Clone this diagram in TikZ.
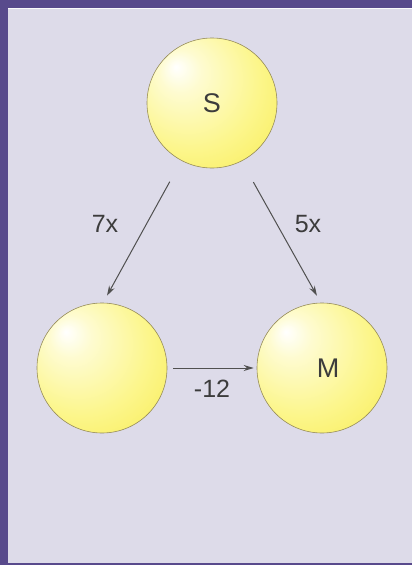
\documentclass[tikz,border=0pt]{standalone}
\usepackage{fontspec}
\setmainfont{Liberation Sans}
\usetikzlibrary{arrows.meta}
\definecolor{frame}{RGB}{88,74,140}
\definecolor{panel}{RGB}{221,219,233}
\definecolor{ink}{RGB}{60,60,60}
\definecolor{edge}{RGB}{150,140,90}
\definecolor{ylmid}{RGB}{252,246,140}
\definecolor{ylout}{RGB}{246,232,62}
\pgfdeclareradialshading{sphere}{\pgfpoint{-14bp}{14bp}}{%
  color(0bp)=(white);
  color(8bp)=(white!60!ylmid);
  color(26bp)=(ylmid);
  color(50bp)=(ylout);
  color(62bp)=(ylout!92!orange)}
\tikzset{
  ball/.style={circle, minimum size=130pt, inner sep=0pt, shading=sphere,
    draw=edge, line width=0.6pt, text=ink, font=\fontsize{27}{30}\selectfont},
  lbl/.style={text=ink, font=\fontsize{25}{28}\selectfont, inner sep=0pt},
  arr/.style={draw=ink!90, line width=1pt, -{Stealth[length=10pt,width=6pt]}}
}
\begin{document}
\begin{tikzpicture}[x=1pt,y=-1pt]
\useasboundingbox (0,0) rectangle (412,565);
\fill[frame] (0,0) rectangle (412,565);
\fill[panel] (8,8) rectangle (412,563);
\draw[white!85!panel, line width=1pt] (8,8.5) -- (412,8.5);
\node[ball] (S) at (212,103) {S};
\node[ball] (L) at (102,368) {};
\node[ball] (M) at (322,368) {\hspace{12pt}M};
\draw[arr, shorten <=24pt, shorten >=8pt] (S.242) -- (L.89);
\draw[arr, shorten <=24pt, shorten >=8pt] (S.297) -- (M.91);
\draw[arr, shorten <=6pt, shorten >=3pt] (L.east) -- (M.west);
\node[lbl] (a) at (105,224) {7x};
\node[lbl] (b) at (308,224) {5x};
\node[lbl] (c) at (212,389) {-12};
\end{tikzpicture}
\end{document}
